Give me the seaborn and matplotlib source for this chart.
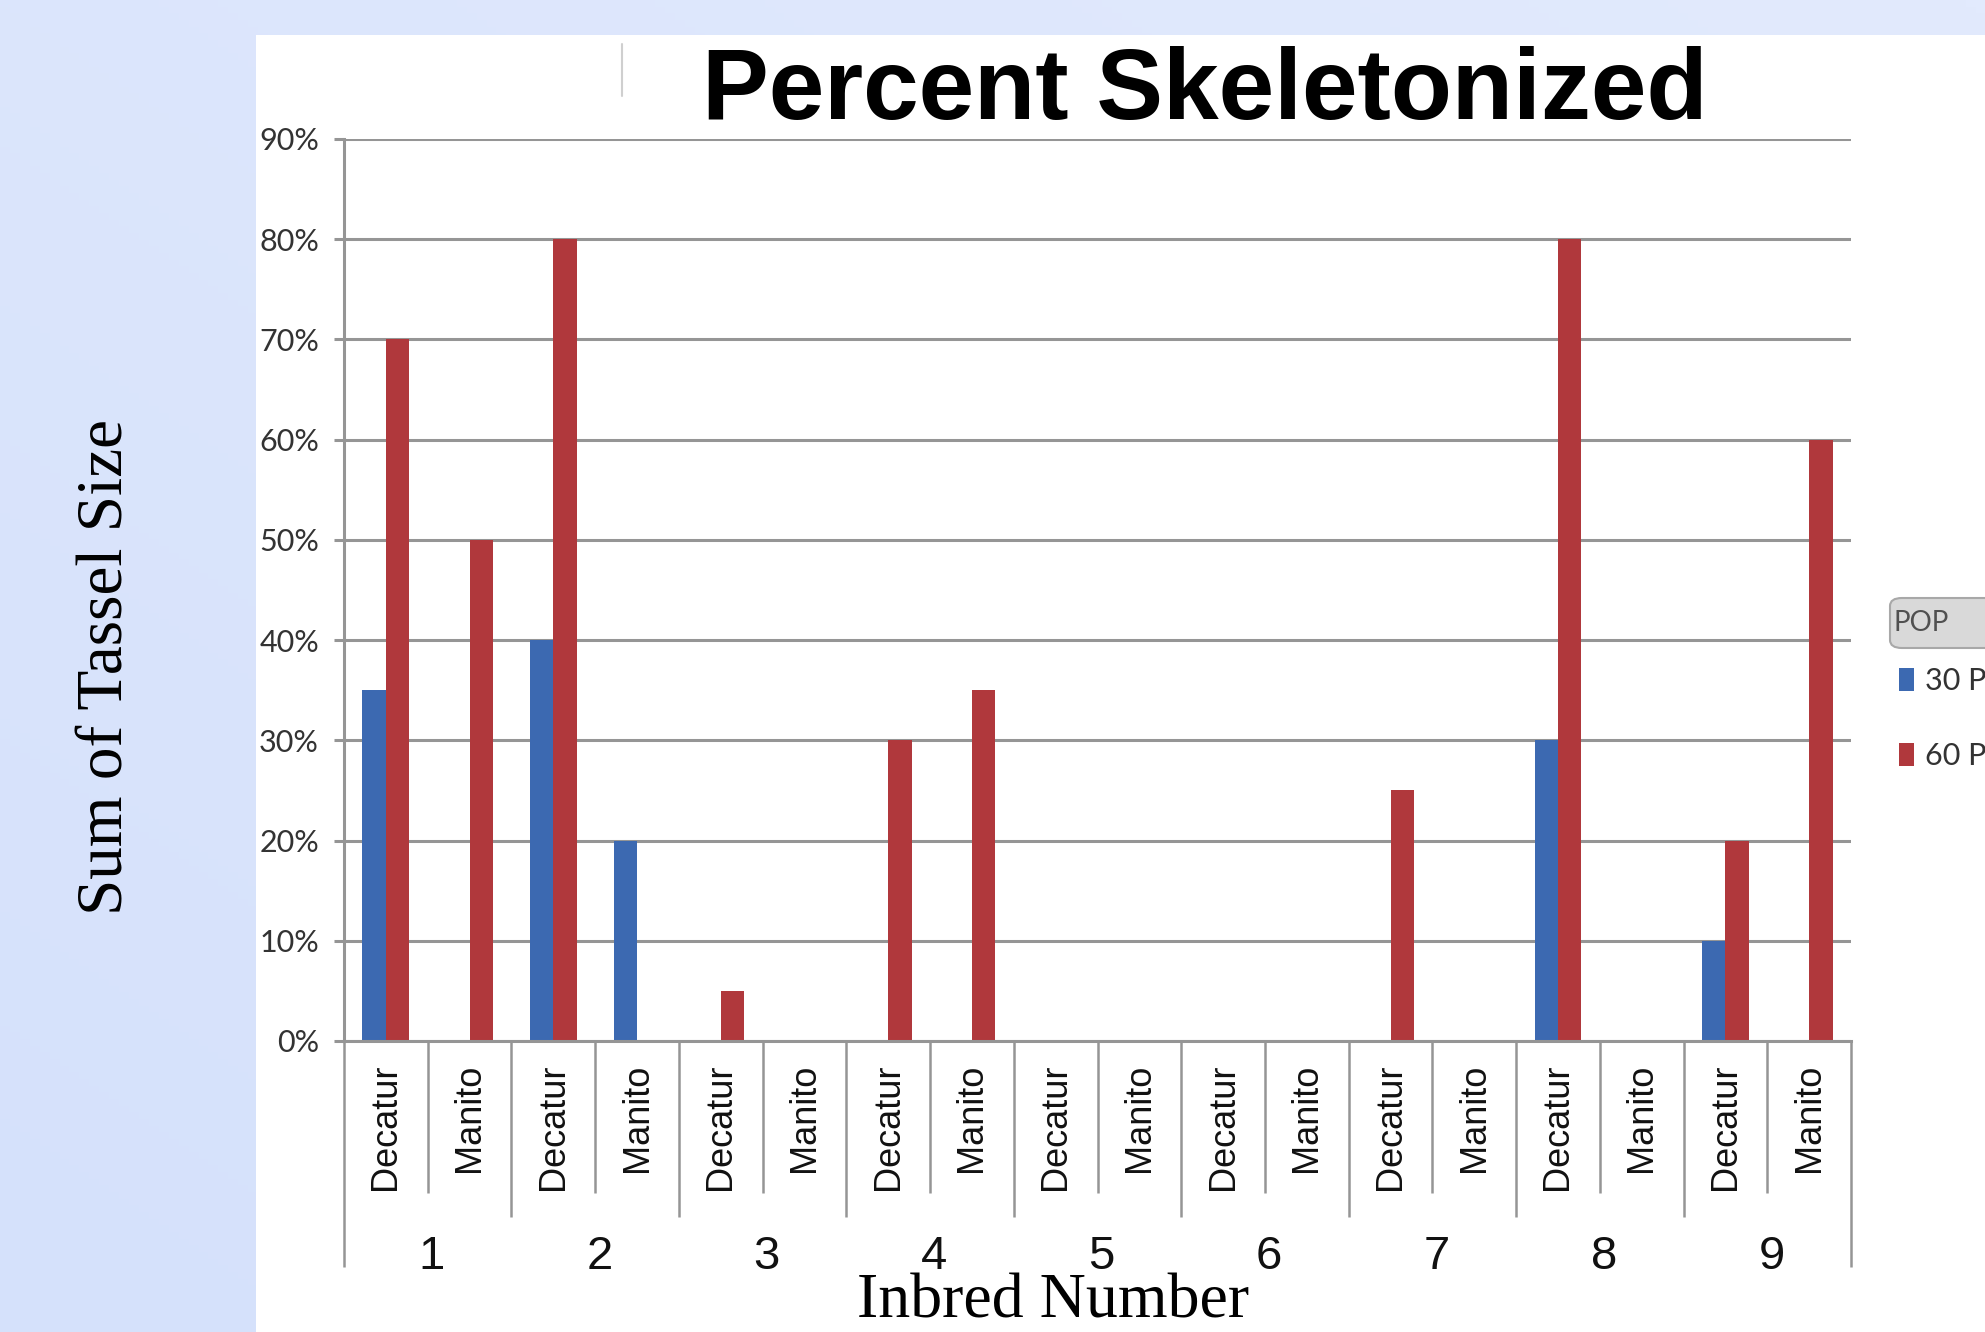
import numpy as np
import pandas as pd
import matplotlib
matplotlib.use("Agg")
import matplotlib.pyplot as plt
import matplotlib.transforms as mtransforms
from matplotlib.patches import Rectangle, FancyBboxPatch
from matplotlib.ticker import PercentFormatter, FixedLocator
from matplotlib.colors import LinearSegmentedColormap
from matplotlib import font_manager
import seaborn as sns

# ---- data -------------------------------------------------------------
inbreds = ["1", "2", "3", "4", "5", "6", "7", "8", "9"]
sites = ["Decatur", "Manito"]
pop_levels = ["30 PP", "60 PP"]
# one value per (inbred, site) pair, in inbred order, Decatur then Manito
pct_30pp = [0.35, 0.00, 0.40, 0.20, 0.00, 0.00, 0.00, 0.00, 0.00,
            0.00, 0.00, 0.00, 0.00, 0.00, 0.30, 0.00, 0.10, 0.00]
pct_60pp = [0.70, 0.50, 0.80, 0.00, 0.05, 0.00, 0.30, 0.35, 0.00,
            0.00, 0.00, 0.00, 0.25, 0.00, 0.80, 0.00, 0.20, 0.60]
y_ticks = [0.0, 0.1, 0.2, 0.3, 0.4, 0.5, 0.6, 0.7, 0.8, 0.9]

title = "Percent Skeletonized"
x_title = "Inbred Number"
y_title = "Sum of Tassel Size"

# ---- styling ----------------------------------------------------------
sns.set_theme(style="white")
installed = {f.name for f in font_manager.fontManager.ttflist}
narrow = "Liberation Sans Narrow" if "Liberation Sans Narrow" in installed else "Lato"
plt.rcParams["font.family"] = ["Liberation Sans", "DejaVu Sans"]

BLUE = "#3C69B1"
RED = "#B0383C"
GRID = "#959595"

keys = [f"{g}|{s}" for g in inbreds for s in sites]
df = pd.DataFrame({
    "key": keys * 2,
    "pct": pct_30pp + pct_60pp,
    "pop": [pop_levels[0]] * len(keys) + [pop_levels[1]] * len(keys),
})

W, H = 1985, 1332
fig = plt.figure(figsize=(W / 100, H / 100), dpi=100, facecolor="#dbe5fc")

# soft gradient on the slide background
bg = fig.add_axes([0, 0, 1, 1], zorder=-10)
gx, gy = np.meshgrid(np.linspace(0, 1, 200), np.linspace(0, 1, 200))
grad = 0.5 * gx + 0.5 * (1 - gy)
cmap = LinearSegmentedColormap.from_list("slide", ["#d5e1fb", "#e2eafd"])
bg.imshow(grad, cmap=cmap, aspect="auto", extent=[0, 1, 0, 1], origin="upper")
bg.set_axis_off()

# white chart panel
fig.patches.append(Rectangle((256 / W, 0), 1 - 256 / W, 1 - 35 / H,
                             transform=fig.transFigure, facecolor="white",
                             edgecolor="none", zorder=-5))
fig.add_artist(plt.Line2D([622 / W, 622 / W], [1 - 44 / H, 1 - 96 / H],
                          transform=fig.transFigure, color="#cfcfcf", lw=1.5))

ax_left, ax_right = 344 / W, 1851 / W
ax_bottom, ax_top = 1 - 1041 / H, 1 - 139 / H
ax = fig.add_axes([ax_left, ax_bottom, ax_right - ax_left, ax_top - ax_bottom])
ax.set_facecolor("none")

sns.barplot(data=df, x="key", y="pct", hue="pop", order=keys,
            hue_order=pop_levels, palette=[BLUE, RED], width=0.56,
            saturation=1, errorbar=None, ax=ax, gap=0, linewidth=0)

ax.set_xlim(-0.5, len(keys) - 0.5)
ax.set_ylim(0, 0.9)
ax.yaxis.set_major_locator(FixedLocator(y_ticks))
ax.yaxis.set_major_formatter(PercentFormatter(1.0, decimals=0))
ax.yaxis.grid(True, color=GRID, lw=2.2)
ax.set_axisbelow(True)

for side in ["top", "right"]:
    ax.spines[side].set_visible(False)
for side in ["left", "bottom"]:
    ax.spines[side].set_color(GRID)
    ax.spines[side].set_linewidth(2.2)

ax.tick_params(axis="y", left=True, length=7, width=2.2, color=GRID,
               pad=11, labelsize=22, labelcolor="#333333")
for lab in ax.get_yticklabels():
    lab.set_fontfamily(narrow)

ax.set_xticks(range(len(keys)))
ax.set_xticklabels([k.split("|")[1] for k in keys], rotation=90,
                   fontsize=26, color="#111111")
ax.tick_params(axis="x", bottom=False, length=0, pad=16)
ax.set_xlabel("")
ax.set_ylabel("")

# category-axis dividers and inbred group labels below the plot
trans = mtransforms.blended_transform_factory(ax.transData, ax.transAxes)
n = len(keys)
for i in range(n + 1):
    xb = i - 0.5
    if i == 0 or i == n:
        yb = -0.251
    elif i % 2 == 0:
        yb = -0.195
    else:
        yb = -0.1685
    ax.plot([xb, xb], [0, yb], transform=trans, clip_on=False,
            color=GRID, lw=1.8, solid_capstyle="butt")

for g, name in enumerate(inbreds):
    ax.text(2 * g + 0.55, -0.2395, name, transform=trans, ha="center",
            va="center", fontsize=34, color="#111111")

# legend with its grey header
sns.move_legend(ax, loc="upper left", bbox_to_anchor=(1899 / W, 1 - 667 / H),
                bbox_transform=fig.transFigure, frameon=False, title=None,
                fontsize=22, handlelength=0.5, handleheight=0.8,
                handletextpad=0.35, labelspacing=1.55, borderpad=0,
                borderaxespad=0)
leg = ax.get_legend()
for t in leg.get_texts():
    t.set_fontfamily(narrow)
    t.set_color("#333333")

fig.patches.append(FancyBboxPatch((1890 / W, 1 - 648 / H), 0.2, 50 / H,
                                  boxstyle="round,pad=0,rounding_size=0.006",
                                  transform=fig.transFigure,
                                  facecolor="#d9d9d9", edgecolor="#a8a8a8",
                                  lw=1.5, zorder=2))
fig.text(1893 / W, 1 - 623 / H, "POP", ha="left", va="center", fontsize=20,
         color="#505050", family=narrow)

# titles
fig.text(1205 / W, 1 - 93 / H, title, ha="center", va="center",
         fontsize=72, fontweight="bold", color="black")
fig.text(1053 / W, 14 / H, x_title, ha="center", va="baseline",
         fontsize=46, family="Liberation Serif", color="black")
fig.text(107 / W, 1 - 667 / H, y_title, ha="center", va="center",
         rotation=90, fontsize=47, family="Liberation Serif", color="black")

fig.savefig("out.png", dpi=100, facecolor=fig.get_facecolor())
